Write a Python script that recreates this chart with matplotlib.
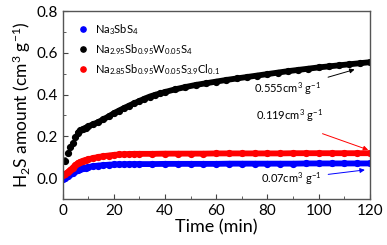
import numpy as np
import matplotlib
matplotlib.use('Agg')
import matplotlib.pyplot as plt

plt.rcParams['font.family'] = ['Lato', 'DejaVu Sans']
plt.rcParams['mathtext.default'] = 'regular'

# time grids (min)
t_blue = [0, 1, 2, 3, 4, 5, 6, 7, 8, 9, 10, 12, 14, 16, 18, 20, 22, 24, 26, 28, 30,
          35, 40, 45, 50, 55, 60, 65, 70, 75, 80, 85, 90, 95, 100, 105, 110, 115, 120]
v_blue = [-0.004, 0.002, 0.01, 0.018, 0.025, 0.032, 0.038, 0.043, 0.047, 0.05, 0.053,
          0.057, 0.06, 0.062, 0.064, 0.065, 0.066, 0.066, 0.067, 0.067, 0.067,
          0.067, 0.068, 0.068, 0.068, 0.068, 0.068, 0.069, 0.069, 0.069, 0.069,
          0.069, 0.069, 0.07, 0.07, 0.07, 0.07, 0.07, 0.07]

t_red = [0, 1, 2, 3, 4, 5, 6, 7, 8, 9, 10, 12, 14, 16, 18, 20, 22, 24, 26, 28, 30,
         35, 40, 45, 50, 55, 60, 65, 70, 75, 80, 85, 90, 95, 100, 105, 110, 115, 120]
v_red = [0.015, 0.02, 0.028, 0.038, 0.05, 0.062, 0.072, 0.078, 0.083, 0.087, 0.09,
         0.096, 0.101, 0.105, 0.108, 0.111, 0.113, 0.114, 0.115, 0.116, 0.116,
         0.116, 0.117, 0.117, 0.117, 0.117, 0.118, 0.118, 0.118, 0.118, 0.118,
         0.118, 0.119, 0.119, 0.119, 0.119, 0.119, 0.119, 0.119]

t_black = [1, 2, 3, 4, 5, 6, 7, 8, 9, 10, 12, 14, 16, 18, 20, 22, 24, 26, 28, 30,
           32, 34, 36, 38, 40, 44, 48, 52, 56, 60, 64, 68, 72, 76, 80, 84, 88, 92,
           96, 100, 104, 108, 112, 116, 120]
v_black = [0.08, 0.12, 0.15, 0.17, 0.195, 0.218, 0.228, 0.235, 0.241, 0.247, 0.258,
           0.268, 0.282, 0.295, 0.31, 0.323, 0.335, 0.347, 0.358, 0.369, 0.38, 0.39,
           0.398, 0.405, 0.412, 0.425, 0.436, 0.446, 0.454, 0.462, 0.47, 0.477,
           0.484, 0.491, 0.498, 0.505, 0.512, 0.518, 0.524, 0.53, 0.535, 0.54,
           0.545, 0.55, 0.555]

labels = ['Na$_3$SbS$_4$',
          'Na$_{2.95}$Sb$_{0.95}$W$_{0.05}$S$_4$',
          'Na$_{2.85}$Sb$_{0.95}$W$_{0.05}$S$_{3.9}$Cl$_{0.1}$']

fig = plt.figure(figsize=(3.87, 2.45), dpi=100)
ax = fig.add_axes([0.1615, 0.188, 0.7945, 0.767])

# thick band under the markers, like the dense data of the original
ax.plot(t_blue, v_blue, '-', color='blue', lw=4.2, solid_capstyle='round')
ax.plot(t_red, v_red, '-', color='red', lw=4.2, solid_capstyle='round')
ax.plot(t_black[5:], v_black[5:], '-', color='black', lw=4.2, solid_capstyle='round')
ax.plot(t_blue, v_blue, 'o', color='blue', ms=4.2, label=labels[0])
ax.plot(t_black, v_black, 'o', color='black', ms=4.2, label=labels[1])
ax.plot(t_red, v_red, 'o', color='red', ms=4.2, label=labels[2])

ax.set_xlim(0, 120)
ax.set_ylim(-0.1, 0.8)
ax.set_xticks([0, 20, 40, 60, 80, 100, 120])
ax.set_yticks([0.0, 0.2, 0.4, 0.6, 0.8])
ax.set_xticks(np.arange(10, 120, 20), minor=True)
ax.set_yticks([-0.1, 0.1, 0.3, 0.5, 0.7], minor=True)
ax.yaxis.set_major_formatter(matplotlib.ticker.FormatStrFormatter('%.1f'))
ax.tick_params(which='both', direction='in', labelsize=11, color='#444444')
ax.tick_params(which='major', length=3.5)
ax.tick_params(which='minor', length=2)
for s in ax.spines.values():
    s.set_color('#555555')
    s.set_linewidth(1)

ax.set_xlabel('Time (min)', fontsize=13, labelpad=1)
ax.set_ylabel('H$_2$S amount (cm$^3$ g$^{-1}$)', fontsize=12.5, labelpad=2)

ax.legend(loc='upper left', frameon=False, fontsize=8, handletextpad=0.3,
          markerscale=0.9, borderaxespad=0.6, labelspacing=0.45, handlelength=1.6)

ann = dict(fontsize=8)
ax.annotate('0.555cm$^3$ g$^{-1}$', xy=(114, 0.52), xytext=(101, 0.427),
            ha='right', va='center', color='black',
            arrowprops=dict(arrowstyle='-|>', color='black', lw=0.7,
                            mutation_scale=7, shrinkA=3, shrinkB=0), **ann)
ax.annotate('0.119cm$^3$ g$^{-1}$', xy=(119.3, 0.135), xytext=(88.4, 0.30),
            ha='center', va='center', color='black',
            arrowprops=dict(arrowstyle='-|>', color='red', lw=0.7,
                            mutation_scale=7, shrinkA=0, shrinkB=0,
                            relpos=(1.0, -0.6)), **ann)
ax.annotate('0.07cm$^3$ g$^{-1}$', xy=(118, 0.039), xytext=(101, -0.004),
            ha='right', va='center', color='black',
            arrowprops=dict(arrowstyle='-|>', color='blue', lw=0.7,
                            mutation_scale=7, shrinkA=3, shrinkB=0), **ann)

fig.savefig('out.png', dpi=100)
